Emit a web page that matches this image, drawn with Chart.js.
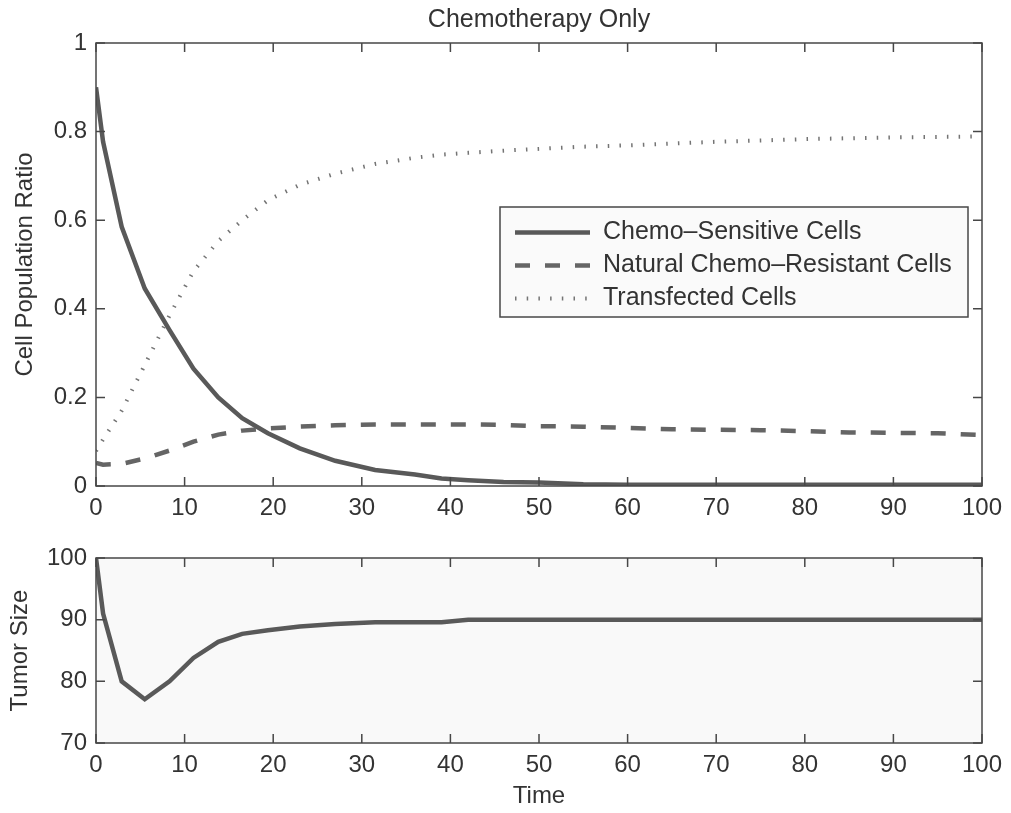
<!DOCTYPE html>
<html>
<head>
<meta charset="utf-8">
<title>Chemotherapy Only</title>
<script src="https://cdn.jsdelivr.net/npm/chart.js@4.4.1/dist/chart.umd.min.js"></script>
<style>
  body { margin: 0; background: #fff; }
  #wrap { position: relative; width: 1011px; height: 813px; }
  canvas { position: absolute; left: 0; }
  #cellChart { top: 0; }
  #tumorChart { top: 520px; }
</style>
</head>
<body>
<div id="wrap">
  <canvas id="cellChart" width="1011" height="520"></canvas>
  <canvas id="tumorChart" width="1011" height="293"></canvas>
</div>
<script>
// solver output times (uneven steps, finer at the start)
const timePoints = [0, 0.8, 2.9, 5.5, 8.3, 11, 13.8, 16.5, 19.4, 23, 27, 31.5, 36, 39, 42, 46, 50, 55, 60, 65, 70, 75, 80, 85, 90, 95, 100];

const sensitiveCells = [0.90, 0.777, 0.585, 0.446, 0.352, 0.265, 0.200, 0.153, 0.119, 0.085, 0.057, 0.036, 0.026, 0.017, 0.013, 0.009, 0.008, 0.004, 0.003, 0.003, 0.003, 0.003, 0.003, 0.003, 0.003, 0.003, 0.003];
const resistantCells = [0.052, 0.048, 0.050, 0.062, 0.080, 0.100, 0.116, 0.125, 0.130, 0.134, 0.137, 0.139, 0.139, 0.139, 0.139, 0.138, 0.135, 0.134, 0.131, 0.128, 0.127, 0.126, 0.124, 0.121, 0.120, 0.119, 0.115];
const transfectedCells = [0.079, 0.105, 0.170, 0.273, 0.385, 0.485, 0.553, 0.600, 0.645, 0.680, 0.705, 0.727, 0.741, 0.748, 0.752, 0.757, 0.761, 0.766, 0.769, 0.773, 0.777, 0.780, 0.783, 0.785, 0.787, 0.788, 0.789];
const tumorSize = [100, 91, 80, 77.1, 80, 83.8, 86.4, 87.7, 88.3, 88.9, 89.3, 89.6, 89.6, 89.6, 90, 90, 90, 90, 90, 90, 90, 90, 90, 90, 90, 90, 90];

const seriesNames = ['Chemo\u2013Sensitive Cells', 'Natural Chemo\u2013Resistant Cells', 'Transfected Cells'];
const xTicks = { min: 0, max: 100, step: 10 };

const FONT = '"Liberation Sans", Arial, Helvetica, sans-serif';
const TEXT = '#333333';
const AXIS = '#474747';
Chart.defaults.font.family = FONT;
Chart.defaults.color = TEXT;

function toPoints(ys) {
  return timePoints.map((t, i) => ({ x: t, y: ys[i] }));
}

// "1" rather than "1.0", "0.2" etc.
function plainTick(value) {
  return String(+value.toFixed(2));
}

// plot background, box and inward tick marks on all four sides
const frameTicks = {
  id: 'frameTicks',
  beforeDatasetsDraw(chart, args, opts) {
    const { ctx, chartArea: a } = chart;
    ctx.save();
    ctx.fillStyle = opts.background || '#ffffff';
    ctx.fillRect(a.left, a.top, a.width, a.height);
    ctx.restore();
  },
  afterDatasetsDraw(chart) {
    const { ctx, chartArea: a, scales } = chart;
    const len = 9;
    ctx.save();
    ctx.strokeStyle = AXIS;
    ctx.lineWidth = 1.5;
    ctx.beginPath();
    scales.x.ticks.forEach(t => {
      const px = scales.x.getPixelForValue(t.value);
      ctx.moveTo(px, a.bottom); ctx.lineTo(px, a.bottom - len);
      ctx.moveTo(px, a.top); ctx.lineTo(px, a.top + len);
    });
    scales.y.ticks.forEach(t => {
      const py = scales.y.getPixelForValue(t.value);
      ctx.moveTo(a.left, py); ctx.lineTo(a.left + len, py);
      ctx.moveTo(a.right, py); ctx.lineTo(a.right - len, py);
    });
    ctx.stroke();
    ctx.strokeRect(a.left, a.top, a.width, a.height);
    ctx.restore();
  }
};

// boxed legend inside the upper plot, line samples use each dataset's own style
const boxLegend = {
  id: 'boxLegend',
  afterDraw(chart, args, opts) {
    if (!opts.display) return;
    const { ctx, chartArea: a } = chart;
    const left = a.left + opts.offsetX;
    const top = a.top + opts.offsetY;
    ctx.save();
    ctx.fillStyle = '#fafafa';
    ctx.fillRect(left, top, opts.width, opts.height);
    ctx.strokeStyle = AXIS;
    ctx.lineWidth = 1.5;
    ctx.strokeRect(left, top, opts.width, opts.height);
    ctx.font = opts.fontSize + 'px ' + FONT;
    ctx.textBaseline = 'middle';
    chart.data.datasets.forEach((ds, i) => {
      const yy = top + opts.firstRow + i * opts.rowGap;
      ctx.setLineDash(ds.borderDash || []);
      ctx.strokeStyle = ds.borderColor;
      ctx.lineWidth = ds.borderWidth;
      ctx.beginPath();
      ctx.moveTo(left + 15, yy);
      ctx.lineTo(left + 90, yy);
      ctx.stroke();
      ctx.setLineDash([]);
      ctx.fillStyle = TEXT;
      ctx.fillText(ds.label, left + 103, yy);
    });
    ctx.restore();
  }
};

function xScale(height, withTitle) {
  return {
    type: 'linear',
    min: xTicks.min,
    max: xTicks.max,
    grid: { display: false, drawTicks: false },
    border: { display: false },
    ticks: { stepSize: xTicks.step, padding: 8, font: { size: 24 }, color: TEXT },
    title: withTitle
      ? { display: true, text: 'Time', font: { size: 24 }, color: TEXT, padding: { top: 0, bottom: 2 } }
      : { display: false },
    afterFit(scale) { scale.height = height; }
  };
}

// Cell population ratios
new Chart(document.getElementById('cellChart'), {
  type: 'line',
  data: {
    datasets: [{
      label: seriesNames[0],
      data: toPoints(sensitiveCells),
      borderColor: '#595959',
      borderWidth: 4.5,
      pointRadius: 0,
      tension: 0
    }, {
      label: seriesNames[1],
      data: toPoints(resistantCells),
      borderColor: '#656565',
      borderWidth: 4.5,
      borderDash: [15, 15],
      pointRadius: 0,
      tension: 0
    }, {
      label: seriesNames[2],
      data: toPoints(transfectedCells),
      borderColor: '#747474',
      borderWidth: 4,
      borderDash: [1.5, 10.2],
      pointRadius: 0,
      tension: 0
    }]
  },
  options: {
    responsive: false,
    animation: false,
    devicePixelRatio: 1,
    layout: { padding: { left: 0, right: 29, top: 0, bottom: 0 } },
    plugins: {
      legend: { display: false },
      tooltip: { enabled: false },
      title: {
        display: true,
        fullSize: false,
        text: 'Chemotherapy Only',
        font: { size: 25, weight: 'normal' },
        color: TEXT,
        padding: { top: 5, bottom: 8 }
      },
      frameTicks: { background: '#ffffff' },
      boxLegend: {
        display: true,
        offsetX: 404, offsetY: 164,
        width: 468, height: 110,
        firstRow: 25.5, rowGap: 33,
        fontSize: 25
      }
    },
    scales: {
      x: xScale(34, false),
      y: {
        type: 'linear',
        min: 0,
        max: 1,
        grid: { display: false, drawTicks: false },
        border: { display: false },
        ticks: { stepSize: 0.2, padding: 9, font: { size: 24 }, color: TEXT, callback: plainTick },
        title: { display: true, text: 'Cell Population Ratio', font: { size: 24 }, color: TEXT, padding: { top: 10.6, bottom: 0 } },
        afterFit(scale) { scale.width = 96; }
      }
    }
  },
  plugins: [frameTicks, boxLegend]
});

// Tumor size
new Chart(document.getElementById('tumorChart'), {
  type: 'line',
  data: {
    datasets: [{
      label: 'Tumor Size',
      data: toPoints(tumorSize),
      borderColor: '#595959',
      borderWidth: 4.5,
      pointRadius: 0,
      tension: 0
    }]
  },
  options: {
    responsive: false,
    animation: false,
    devicePixelRatio: 1,
    layout: { padding: { left: 0, right: 29, top: 38, bottom: 0 } },
    plugins: {
      legend: { display: false },
      tooltip: { enabled: false },
      frameTicks: { background: '#f9f9f9' },
      boxLegend: { display: false }
    },
    scales: {
      x: xScale(70, true),
      y: {
        type: 'linear',
        min: 70,
        max: 100,
        grid: { display: false, drawTicks: false },
        border: { display: false },
        ticks: { stepSize: 10, padding: 9, font: { size: 24 }, color: TEXT, callback: plainTick },
        title: { display: true, text: 'Tumor Size', font: { size: 24 }, color: TEXT, padding: { top: 5.6, bottom: 0 } },
        afterFit(scale) { scale.width = 96; }
      }
    }
  },
  plugins: [frameTicks, boxLegend]
});
</script>
</body>
</html>
